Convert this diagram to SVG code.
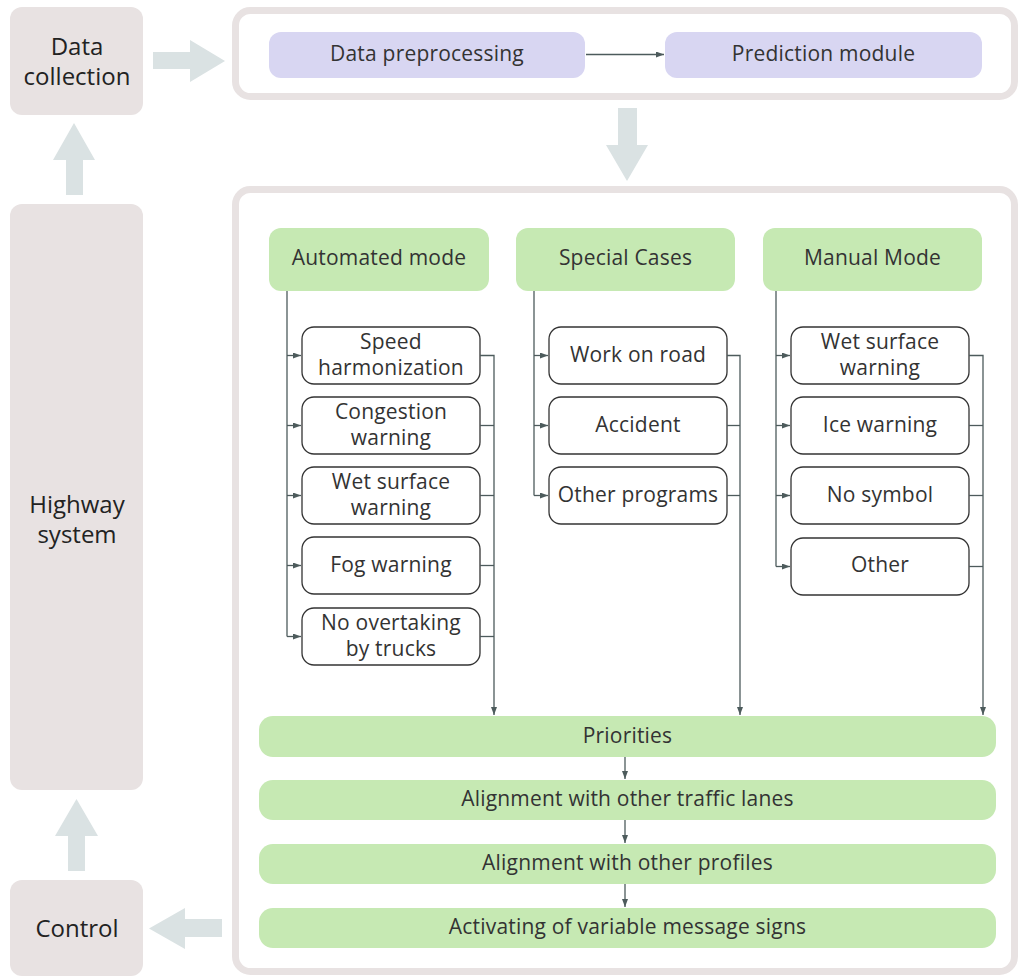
<svg xmlns="http://www.w3.org/2000/svg" width="1019" height="979" viewBox="0 0 1019 979">
  <style>
    .side { fill: #e8e2e2; }
    .side-t { font-family: "Open Sans", "Noto Sans", sans-serif; font-size: 24px; fill: #222; text-anchor: middle; }
    .frame { fill: #ffffff; stroke: #e8e2e2; stroke-width: 7; }
    .block { fill: #dae2e3; }
    .proc { fill: #d8d6f2; }
    .hdr { fill: #c6e9b3; }
    .item { fill: #ffffff; stroke: #333333; stroke-width: 1.3; }
    .t { font-family: "Open Sans", "Noto Sans", sans-serif; font-size: 21px; letter-spacing: 0.2px; fill: #333; text-anchor: middle; }
    .wire { fill: none; stroke: #4d5b5c; stroke-width: 1.3; }
  </style>
  <defs>
    <marker id="tip" viewBox="0 0 8 6" refX="8" refY="3" markerWidth="8" markerHeight="6" markerUnits="userSpaceOnUse" orient="auto">
      <path d="M0,0 L8,3 L0,6 Z" fill="#4d5b5c"/>
    </marker>
  </defs>

  <!-- outer containers -->
  <rect class="frame" x="235.5" y="10.5" width="779" height="86" rx="15"/>
  <rect class="frame" x="235.5" y="189.5" width="779" height="782" rx="15"/>

  <!-- side column -->
  <g id="data-collection">
    <rect class="side" x="10" y="7" width="133" height="108" rx="12"/>
    <text class="side-t" x="77" y="55">Data</text>
    <text class="side-t" x="77" y="85">collection</text>
  </g>
  <g id="highway-system">
    <rect class="side" x="10" y="204" width="133" height="586" rx="12"/>
    <text class="side-t" x="77" y="513">Highway</text>
    <text class="side-t" x="77" y="543">system</text>
  </g>
  <g id="control">
    <rect class="side" x="10" y="880" width="133" height="96" rx="12"/>
    <text class="side-t" x="77" y="937">Control</text>
  </g>

  <!-- wide block arrows -->
  <g id="block-arrows">
    <path class="block" d="M153,52 H190 V40 L225,61 L190,82 V69 H153 Z"/>
    <path class="block" d="M66,195 V160 H53 L74,123 L95,160 H83 V195 Z"/>
    <path class="block" d="M68,871 V836 H55 L76.5,799 L98,836 H85 V871 Z"/>
    <path class="block" d="M618,108 H637 V145 H648 L627,181 L606,145 H618 Z"/>
    <path class="block" d="M222,919 H185 V908 L149,928.5 L185,949 V937 H222 Z"/>
  </g>

  <!-- processing stage -->
  <g id="data-preprocessing">
    <rect class="proc" x="269" y="32" width="316" height="46" rx="12"/>
    <text class="t" x="427" y="61">Data preprocessing</text>
  </g>
  <g id="prediction-module">
    <rect class="proc" x="665" y="32" width="317" height="46" rx="12"/>
    <text class="t" x="823.5" y="61">Prediction module</text>
  </g>

  <!-- mode headers -->
  <g id="automated-mode">
    <rect class="hdr" x="269" y="228" width="220" height="63" rx="12"/>
    <text class="t" x="379" y="265">Automated mode</text>
  </g>
  <g id="special-cases">
    <rect class="hdr" x="516" y="228" width="219" height="63" rx="12"/>
    <text class="t" x="625.5" y="265">Special Cases</text>
  </g>
  <g id="manual-mode">
    <rect class="hdr" x="763" y="228" width="219" height="63" rx="12"/>
    <text class="t" x="872.5" y="265">Manual Mode</text>
  </g>

  <!-- automated mode items -->
  <g id="speed-harmonization">
    <rect class="item" x="302" y="327" width="178" height="57" rx="12"/>
    <text class="t" x="391" y="349">Speed</text>
    <text class="t" x="391" y="375">harmonization</text>
  </g>
  <g id="congestion-warning">
    <rect class="item" x="302" y="397" width="178" height="57" rx="12"/>
    <text class="t" x="391" y="419">Congestion</text>
    <text class="t" x="391" y="445">warning</text>
  </g>
  <g id="wet-surface-auto">
    <rect class="item" x="302" y="467" width="178" height="57" rx="12"/>
    <text class="t" x="391" y="489">Wet surface</text>
    <text class="t" x="391" y="515">warning</text>
  </g>
  <g id="fog-warning">
    <rect class="item" x="302" y="537" width="178" height="57" rx="12"/>
    <text class="t" x="391" y="572">Fog warning</text>
  </g>
  <g id="no-overtaking">
    <rect class="item" x="302" y="608" width="178" height="57" rx="12"/>
    <text class="t" x="391" y="630">No overtaking</text>
    <text class="t" x="391" y="656">by trucks</text>
  </g>

  <!-- special case items -->
  <g id="work-on-road">
    <rect class="item" x="549" y="327" width="178" height="57" rx="12"/>
    <text class="t" x="638" y="362">Work on road</text>
  </g>
  <g id="accident">
    <rect class="item" x="549" y="397" width="178" height="57" rx="12"/>
    <text class="t" x="638" y="432">Accident</text>
  </g>
  <g id="other-programs">
    <rect class="item" x="549" y="467" width="178" height="57" rx="12"/>
    <text class="t" x="638" y="502">Other programs</text>
  </g>

  <!-- manual mode items -->
  <g id="wet-surface-manual">
    <rect class="item" x="791" y="327" width="178" height="57" rx="12"/>
    <text class="t" x="880" y="349">Wet surface</text>
    <text class="t" x="880" y="375">warning</text>
  </g>
  <g id="ice-warning">
    <rect class="item" x="791" y="397" width="178" height="57" rx="12"/>
    <text class="t" x="880" y="432">Ice warning</text>
  </g>
  <g id="no-symbol">
    <rect class="item" x="791" y="467" width="178" height="57" rx="12"/>
    <text class="t" x="880" y="502">No symbol</text>
  </g>
  <g id="other">
    <rect class="item" x="791" y="538" width="178" height="57" rx="12"/>
    <text class="t" x="880" y="572">Other</text>
  </g>

  <!-- output chain -->
  <g id="priorities">
    <rect class="hdr" x="259" y="716" width="737" height="41" rx="14"/>
    <text class="t" x="627.5" y="743">Priorities</text>
  </g>
  <g id="alignment-lanes">
    <rect class="hdr" x="259" y="780" width="737" height="40" rx="14"/>
    <text class="t" x="627.5" y="806">Alignment with other traffic lanes</text>
  </g>
  <g id="alignment-profiles">
    <rect class="hdr" x="259" y="844" width="737" height="40" rx="14"/>
    <text class="t" x="627.5" y="870">Alignment with other profiles</text>
  </g>
  <g id="activating-signs">
    <rect class="hdr" x="259" y="908" width="737" height="40" rx="14"/>
    <text class="t" x="627.5" y="934">Activating of variable message signs</text>
  </g>

  <!-- connectors -->
  <g id="connectors" class="wire">
    <path d="M586,54.5 H664" marker-end="url(#tip)"/>

    <!-- automated mode fan-out -->
    <path d="M287,291 V636.5"/>
    <path d="M287,355.5 H301" marker-end="url(#tip)"/>
    <path d="M287,425.5 H301" marker-end="url(#tip)"/>
    <path d="M287,495.5 H301" marker-end="url(#tip)"/>
    <path d="M287,565.5 H301" marker-end="url(#tip)"/>
    <path d="M287,636.5 H301" marker-end="url(#tip)"/>
    <!-- automated mode fan-in -->
    <path d="M480,355.5 H494 V715" marker-end="url(#tip)"/>
    <path d="M480,425.5 H494"/>
    <path d="M480,495.5 H494"/>
    <path d="M480,565.5 H494"/>
    <path d="M480,636.5 H494"/>

    <!-- special cases fan-out -->
    <path d="M534,291 V495.5"/>
    <path d="M534,355.5 H548" marker-end="url(#tip)"/>
    <path d="M534,425.5 H548" marker-end="url(#tip)"/>
    <path d="M534,495.5 H548" marker-end="url(#tip)"/>
    <!-- special cases fan-in -->
    <path d="M727,355.5 H740 V715" marker-end="url(#tip)"/>
    <path d="M727,425.5 H740"/>
    <path d="M727,495.5 H740"/>

    <!-- manual mode fan-out -->
    <path d="M776,291 V566.5"/>
    <path d="M776,355.5 H790" marker-end="url(#tip)"/>
    <path d="M776,425.5 H790" marker-end="url(#tip)"/>
    <path d="M776,495.5 H790" marker-end="url(#tip)"/>
    <path d="M776,566.5 H790" marker-end="url(#tip)"/>
    <!-- manual mode fan-in -->
    <path d="M969,355.5 H983 V715" marker-end="url(#tip)"/>
    <path d="M969,425.5 H983"/>
    <path d="M969,495.5 H983"/>
    <path d="M969,566.5 H983"/>

    <!-- output chain -->
    <path d="M625,757 V779" marker-end="url(#tip)"/>
    <path d="M625,820 V843" marker-end="url(#tip)"/>
    <path d="M625,884 V907" marker-end="url(#tip)"/>
  </g>
</svg>
